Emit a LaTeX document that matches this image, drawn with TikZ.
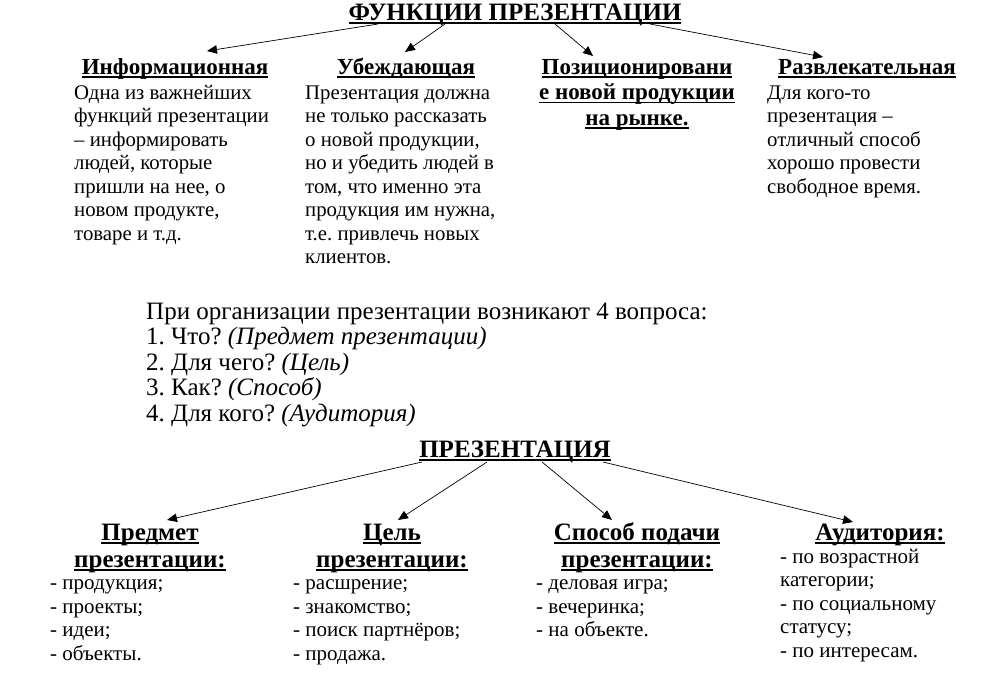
\documentclass[tikz,border=0pt]{standalone}
\usepackage{fontspec}
\setmainfont{Liberation Serif}
\usetikzlibrary{arrows.meta}

\frenchspacing
\newcommand{\ulword}[1]{\setbox0\hbox{#1}\rlap{\rule[-3.8pt]{\wd0}{1.4pt}}\box0}

% a multi-line node sits on its last baseline
\tikzset{
  ttl/.style={anchor=base,inner sep=0pt,font=\fontsize{25}{28}\selectfont\bfseries},
  head/.style={anchor=base,inner sep=0pt,align=center,font=\fontsize{23}{25.5}\selectfont\bfseries},
  bighead/.style={anchor=base,inner sep=0pt,align=center,font=\fontsize{25}{27}\selectfont\bfseries},
  body/.style={anchor=base west,inner sep=0pt,align=left,font=\fontsize{20.8}{23.5}\selectfont},
  list/.style={anchor=base west,inner sep=0pt,align=left,font=\fontsize{21}{23.4}\selectfont},
  quest/.style={anchor=base west,inner sep=0pt,align=left,font=\fontsize{25}{25.5}\selectfont},
  arr/.style={-{Triangle[length=10pt,width=8.5pt]},line width=0.7pt}
}

\begin{document}
\begin{tikzpicture}[x=1pt,y=-1pt]
\useasboundingbox[fill=white] (0,0) rectangle (1003,697);

% functions
\node[ttl] (func) at (515,20) {\ulword{ФУНКЦИИ ПРЕЗЕНТАЦИИ}};

\node[head] (info) at (175,74) {\ulword{Информационная}};
\node[head] (conv) at (406,74) {\ulword{Убеждающая}};
\node[head] (posit) at (637,125) {\ulword{Позиционировани}\\\ulword{е новой продукции}\\\ulword{на рынке.}};
\node[head] (fun) at (867,74) {\ulword{Развлекательная}};

\node[body] (infotxt) at (74,240) {Одна из важнейших\\функций презентации\\– информировать\\людей, которые\\пришли на нее, о\\новом продукте,\\товаре и т.д.};
\node[body] (convtxt) at (305,263.5) {Презентация должна\\не только рассказать\\о новой продукции,\\но и убедить людей в\\том, что именно эта\\продукция им нужна,\\т.е. привлечь новых\\клиентов.};
\node[body] (funtxt) at (767,193) {Для кого-то\\презентация –\\отличный способ\\хорошо провести\\свободное время.};

\draw[arr] ([xshift=-137pt,yshift=-4pt]func.base) -- ([xshift=32pt,yshift=23pt]info.base);
\draw[arr] ([xshift=-70pt,yshift=-4pt]func.base) -- ([xshift=-1pt,yshift=22pt]conv.base);
\draw[arr] ([xshift=40pt,yshift=-4pt]func.base) -- ([xshift=-44pt,yshift=69pt]posit.base);
\draw[arr] ([xshift=135pt,yshift=-4pt]func.base) -- ([xshift=-44pt,yshift=17pt]fun.base);

% questions
\node[quest] (quest) at (146,421) {При организации презентации возникают 4 вопроса:\\
1. Что? \textit{(Предмет презентации)}\\
2. Для чего? \textit{(Цель)}\\
3. Как? \textit{(Способ)}\\
4. Для кого? \textit{(Аудитория)}};

% presentation
\node[ttl] (pres) at (515,457) {\ulword{ПРЕЗЕНТАЦИЯ}};

\node[bighead] (subj) at (150,567) {\ulword{Предмет}\\\ulword{презентации:}};
\node[bighead] (goal) at (392,567) {\ulword{Цель}\\\ulword{презентации:}};
\node[bighead] (way) at (637,567) {\ulword{Способ подачи}\\\ulword{презентации:}};
\node[bighead] (aud) at (880,540) {\ulword{Аудитория:}};

\node[list] (subjtxt) at (50,660) {- продукция;\\- проекты;\\- идеи;\\- объекты.};
\node[list] (goaltxt) at (293,660) {- расшрение;\\- знакомство;\\- поиск партнёров;\\- продажа.};
\node[list] (waytxt) at (536,636.6) {- деловая игра;\\- вечеринка;\\- на объекте.};
\node[list] (audtxt) at (780,657) {- по возрастной\\категории;\\- по социальному\\статусу;\\- по интересам.};

\draw[arr] ([xshift=-93pt,yshift=-5pt]pres.base) -- ([xshift=17pt,yshift=47pt]subj.base);
\draw[arr] ([xshift=-28pt,yshift=-5pt]pres.base) -- ([xshift=6pt,yshift=47pt]goal.base);
\draw[arr] ([xshift=27pt,yshift=-5pt]pres.base) -- ([xshift=-25pt,yshift=47pt]way.base);
\draw[arr] ([xshift=88pt,yshift=-5pt]pres.base) -- ([xshift=-27pt,yshift=18pt]aud.base);
\end{tikzpicture}
\end{document}
